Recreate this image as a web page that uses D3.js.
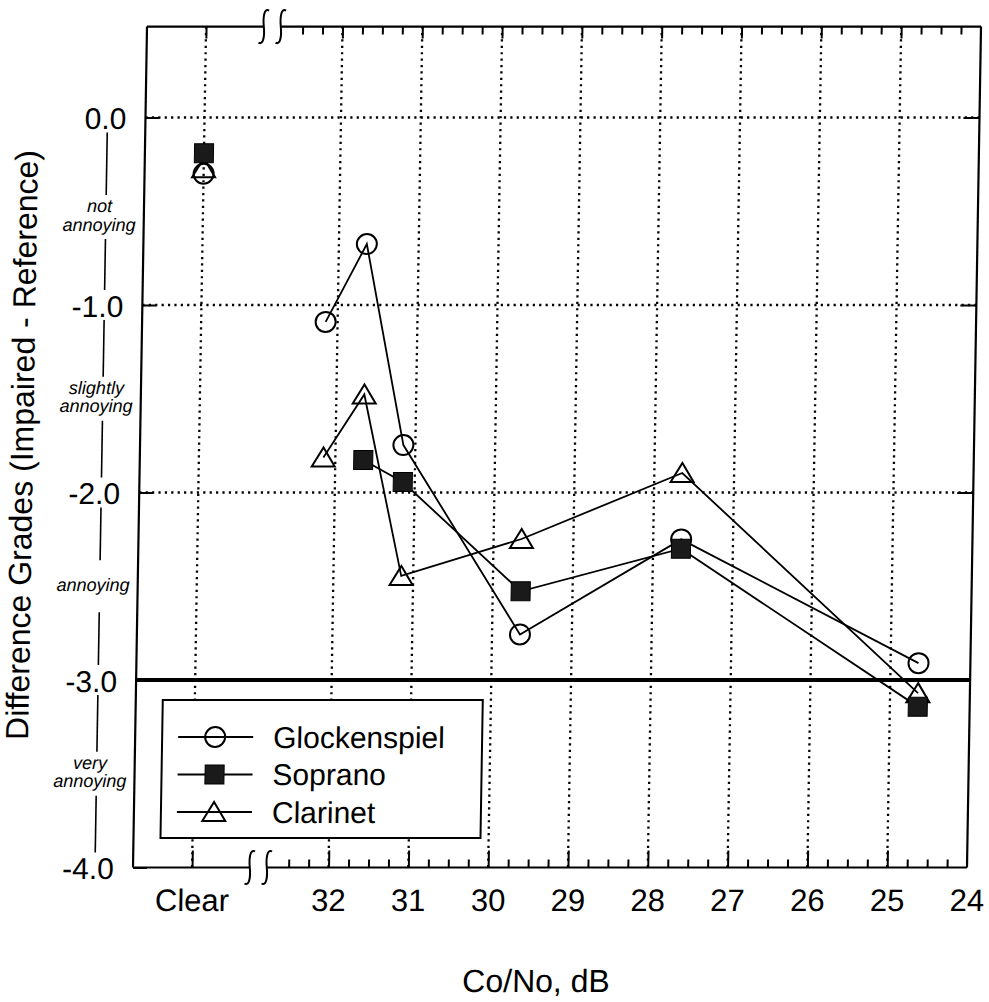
<!DOCTYPE html>
<html><head><meta charset="utf-8">
<script src="https://cdn.jsdelivr.net/npm/d3@7"></script>
<style>html,body{margin:0;padding:0;background:#fff}</style>
</head><body>
<svg id="chart" width="989" height="1002"></svg>
<script>
// ---------- data ----------
const seriesNames = ["Glockenspiel", "Soprano", "Clarinet"];
const clearLabel = "Clear";
const clearPosition = 33.71;      // where the "Clear" category sits on the Co/No axis
const breakPosition = 32.88;      // axis break marks
const clearValues = [-0.30, -0.19, -0.27];
const glockDb = [32.15, 31.65, 31.15, 29.65, 27.65, 24.65];
const glockValues = [-1.09, -0.675, -1.747, -2.757, -2.25, -2.91];
const sopranoDb = [31.65, 31.15, 29.65, 27.65, 24.65];
const sopranoValues = [-1.827, -1.944, -2.527, -2.30, -3.142];
const clarinetDb = [32.15, 31.65, 31.15, 29.65, 27.65, 24.65];
const clarinetValues = [-1.813, -1.477, -2.445, -2.248, -1.896, -3.07];
const xTickValues = [32, 31, 30, 29, 28, 27, 26, 25, 24];
const yTickValues = [0, -1, -2, -3, -4];
const gradeLabels = [["not", "annoying"], ["slightly", "annoying"], ["annoying"], ["very", "annoying"]];
const gradeLevels = [-0.53, -1.5, -2.5, -3.5];
const xTitle = "Co/No, dB";
const yTitle = "Difference Grades (Impaired - Reference)";

// ---------- setup ----------
const FONT = "'Liberation Sans', Arial, Helvetica, sans-serif";
const svg = d3.select("#chart");
svg.append("rect").attr("width", 989).attr("height", 1002).attr("fill", "#fff");
const root = svg.append("g").attr("transform", "translate(0,447) skewX(-0.955) translate(0,-447)");

const x = d3.scaleLinear().domain([34.45, 24]).range([140, 974]);
const y = d3.scaleLinear().domain([-4, 0]).range([867.5, 117.5]);
const xL = x.range()[0], xR = x.range()[1];
const yB = y(-4), yT = y(0.485);

// ---------- grid ----------
const dotted = sel => sel.attr("stroke", "#000").attr("stroke-width", 2.3).attr("stroke-dasharray", "2.2,4.2");
root.append("g").selectAll("line").data([clearPosition, ...xTickValues.filter(d => d !== 24)]).join("line")
  .attr("x1", d => x(d)).attr("x2", d => x(d)).attr("y1", yT).attr("y2", yB).call(dotted);
root.append("g").selectAll("line").data([0, -1, -2]).join("line")
  .attr("x1", xL).attr("x2", xR).attr("y1", d => y(d)).attr("y2", d => y(d)).call(dotted);
root.append("line").attr("x1", xL).attr("x2", xR).attr("y1", y(-3)).attr("y2", y(-3))
  .attr("stroke", "#000").attr("stroke-width", 4);

// ---------- axes ----------
const minorValues = d3.range(24.25, 32.6, 0.25).filter(d => Math.abs(d - Math.round(d)) > 1e-6);
const majorValues = [clearPosition, ...xTickValues.filter(d => d !== 24)];
function tickAxis(axis, tx, ty) {
  const g = root.append("g").attr("transform", `translate(${tx},${ty})`).call(axis);
  g.select(".domain").remove();
  g.selectAll("line").attr("stroke", "#000").attr("stroke-width", 2);
  return g;
}
tickAxis(d3.axisBottom(x).tickValues(majorValues).tickSizeInner(-17).tickSizeOuter(0).tickFormat(() => ""), 0, yB);
tickAxis(d3.axisBottom(x).tickValues(minorValues).tickSizeInner(-8).tickSizeOuter(0).tickFormat(() => ""), 0, yB);
tickAxis(d3.axisTop(x).tickValues(majorValues).tickSizeInner(-12).tickSizeOuter(0).tickFormat(() => ""), 0, yT);
tickAxis(d3.axisTop(x).tickValues(minorValues).tickSizeInner(-8).tickSizeOuter(0).tickFormat(() => ""), 0, yT);
tickAxis(d3.axisRight(y).tickValues([0, -1, -2]).tickSizeInner(-16).tickSizeOuter(0).tickFormat(() => ""), xR, 0);

const fmtY = d3.formatLocale({decimal: ".", thousands: ",", grouping: [3], currency: ["", ""], minus: "-"}).format(".1f");
const gy = tickAxis(d3.axisLeft(y).tickValues(yTickValues).tickSizeInner(-14).tickSizeOuter(0).tickPadding(19).tickFormat(fmtY), xL, 0);
gy.selectAll("text").attr("font-size", 30).attr("font-family", FONT).attr("fill", "#000").attr("dy", "0.37em");

const gxl = root.append("g").attr("transform", `translate(0,${yB})`)
  .call(d3.axisBottom(x).tickValues([clearPosition, ...xTickValues]).tickSize(0).tickPadding(22)
    .tickFormat(d => d === clearPosition ? clearLabel : String(d)));
gxl.select(".domain").remove();
gxl.selectAll("text").attr("font-size", 31).attr("font-family", FONT).attr("fill", "#000");

// ---------- frame with axis break ----------
const bx = x(breakPosition);
const frame = root.append("g").attr("stroke", "#000").attr("stroke-width", 2.2).attr("fill", "none");
frame.append("line").attr("x1", xL).attr("x2", xL).attr("y1", yT).attr("y2", yB);
frame.append("line").attr("x1", xR).attr("x2", xR).attr("y1", yT).attr("y2", yB);
[yT, yB].forEach(yy => {
  frame.append("line").attr("x1", xL).attr("x2", bx - 9).attr("y1", yy).attr("y2", yy);
  frame.append("line").attr("x1", bx + 9).attr("x2", xR).attr("y1", yy).attr("y2", yy);
  [bx - 8.5, bx + 8.5].forEach(cx => {
    frame.append("path").attr("stroke-width", 2)
      .attr("d", `M${cx + 5},${yy - 16} C${cx},${yy - 19} ${cx - 1},${yy - 9} ${cx},${yy} C${cx + 1},${yy + 9} ${cx},${yy + 19} ${cx - 5},${yy + 16}`);
  });
});

// ---------- grade labels on y axis ----------
const gradeX = 95.5, lineX = 102;
const gg = root.append("g");
gradeLabels.forEach((lines, i) => {
  const yc = y(gradeLevels[i]);
  const gap = lines.length > 1 ? 22 : 26;
  gg.append("line").attr("x1", lineX).attr("x2", lineX)
    .attr("y1", y(yTickValues[i]) + 15).attr("y2", yc - gap).attr("stroke", "#000").attr("stroke-width", 1.6);
  gg.append("line").attr("x1", lineX).attr("x2", lineX)
    .attr("y1", yc + gap).attr("y2", y(yTickValues[i + 1]) - 15).attr("stroke", "#000").attr("stroke-width", 1.6);
  lines.forEach((t, j) => {
    gg.append("text").attr("x", gradeX).attr("y", yc + 4.5 + (j - (lines.length - 1) / 2) * 18.5)
      .attr("text-anchor", "middle").attr("font-family", FONT).attr("font-style", "italic")
      .attr("font-size", 18).attr("fill", "#000").text(t);
  });
});

// ---------- titles ----------
root.append("text").attr("transform", "translate(33,445) rotate(-90)").attr("text-anchor", "middle")
  .attr("font-family", FONT).attr("font-size", 32).attr("fill", "#000").text(yTitle);
root.append("text").attr("x", 545).attr("y", 992).attr("text-anchor", "middle")
  .attr("font-family", FONT).attr("font-size", 32).attr("fill", "#000").text(xTitle);

// ---------- series ----------
const series = [
  {name: seriesNames[0], db: glockDb, vals: glockValues, clear: clearValues[0], shape: "circle"},
  {name: seriesNames[1], db: sopranoDb, vals: sopranoValues, clear: clearValues[1], shape: "square"},
  {name: seriesNames[2], db: clarinetDb, vals: clarinetValues, clear: clearValues[2], shape: "triangle"}
];
const line = d3.line().x(d => x(d[0])).y(d => y(d[1]));
const lg = root.append("g");
series.forEach(s => {
  lg.append("path").datum(s.db.map((d, i) => [d, s.vals[i]])).attr("d", line)
    .attr("fill", "none").attr("stroke", "#000").attr("stroke-width", 1.8);
});
function drawMarker(g, shape, cx, cy) {
  if (shape === "circle") {
    g.append("circle").attr("cx", cx).attr("cy", cy).attr("r", 10)
      .attr("fill", "none").attr("stroke", "#000").attr("stroke-width", 2);
  } else if (shape === "square") {
    g.append("rect").attr("x", cx - 9.5).attr("y", cy - 9.5).attr("width", 19).attr("height", 19)
      .attr("fill", "#1a1a1a").attr("stroke", "#000").attr("stroke-width", 1);
  } else {
    g.append("path").attr("transform", `translate(${cx},${cy})`).attr("d", "M0,-10 L11.5,9 L-11.5,9 Z")
      .attr("fill", "none").attr("stroke", "#000").attr("stroke-width", 2);
  }
}
const mg = root.append("g");
["circle", "triangle", "square"].forEach(shape => {
  series.filter(s => s.shape === shape).forEach(s => {
    drawMarker(mg, shape, x(clearPosition), y(s.clear));
    s.db.forEach((d, i) => drawMarker(mg, shape, x(d), y(s.vals[i])));
  });
});

// ---------- legend ----------
const leg = root.append("g");
leg.append("rect").attr("x", 167).attr("y", 700).attr("width", 320).attr("height", 138)
  .attr("fill", "#fff").attr("stroke", "#000").attr("stroke-width", 2);
series.forEach((s, i) => {
  const ry = 737 + i * 37.5;
  leg.append("line").attr("x1", 183).attr("x2", 258).attr("y1", ry).attr("y2", ry)
    .attr("stroke", "#000").attr("stroke-width", 1.8);
  drawMarker(leg, s.shape, 220, ry);
  leg.append("text").attr("x", 278).attr("y", ry + 11).attr("font-family", FONT)
    .attr("font-size", 30).attr("fill", "#000").text(s.name);
});
</script>
</body></html>
